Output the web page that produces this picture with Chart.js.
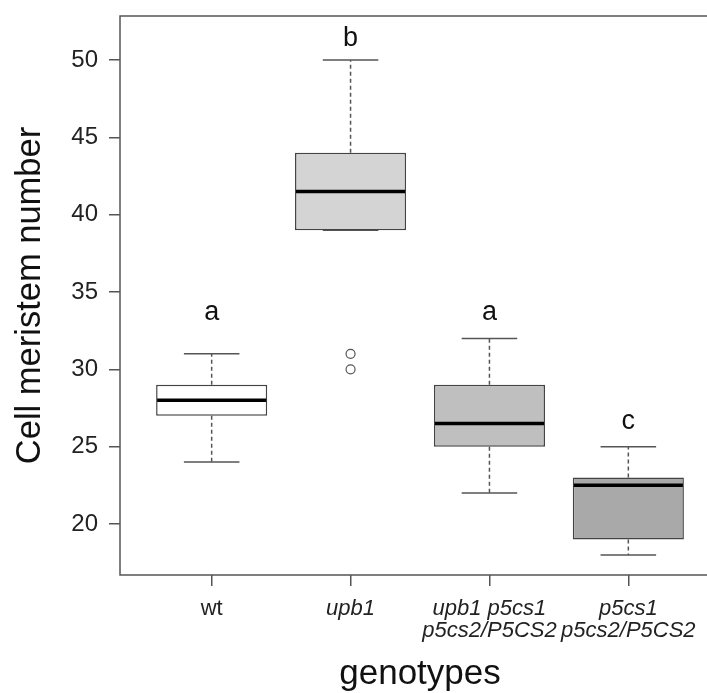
<!DOCTYPE html>
<html>
<head>
<meta charset="utf-8">
<script src="https://cdn.jsdelivr.net/npm/chart.js@4.4.0/dist/chart.umd.min.js"></script>
<style>
    html, body { margin: 0; padding: 0; background: #fff; overflow: hidden; }
</style>
</head>
<body>
<canvas id="boxChart" width="730" height="693"></canvas>
<script>
// Data
const genotypes = [['wt'], ['upb1'], ['upb1 p5cs1', 'p5cs2/P5CS2'], ['p5cs1', 'p5cs2/P5CS2']];
const positions = [1, 2, 3, 4];
const whiskerLow = [24, 39, 22, 18];
const q1 = [27, 39, 25, 19];
const medians = [28, 41.5, 26.5, 22.5];
const q3 = [29, 44, 29, 23];
const whiskerHigh = [31, 50, 32, 25];
const outlierGroup = [2, 2];
const outlierValues = [31, 30];
const groupLetters = ['a', 'b', 'a', 'c'];
const letterLevels = [33.7, 51.4, 33.7, 26.6];
const yTicks = [20, 25, 30, 35, 40, 45, 50];
const boxColors = ['#ffffff', '#d4d4d4', '#bfbfbf', '#a9a9a9'];

const FONT = "'Liberation Sans', Arial, Helvetica, sans-serif";

// whiskers, caps, medians, letters and the frame
const boxplotParts = {
    id: 'boxplotParts',
    beforeDatasetsDraw(chart) {
        const ctx = chart.ctx;
        const y = chart.scales.y;
        const bars = chart.getDatasetMeta(0).data;
        ctx.save();
        ctx.strokeStyle = '#555';
        ctx.lineWidth = 1.5;
        bars.forEach((bar, i) => {
            const half = bar.width / 2;
            // dashed whiskers
            ctx.setLineDash([4, 3]);
            ctx.beginPath();
            ctx.moveTo(bar.x, y.getPixelForValue(q3[i]));
            ctx.lineTo(bar.x, y.getPixelForValue(whiskerHigh[i]));
            ctx.moveTo(bar.x, y.getPixelForValue(q1[i]));
            ctx.lineTo(bar.x, y.getPixelForValue(whiskerLow[i]));
            ctx.stroke();
            // caps
            ctx.setLineDash([]);
            ctx.beginPath();
            [whiskerHigh[i], whiskerLow[i]].forEach(v => {
                const py = y.getPixelForValue(v);
                ctx.moveTo(bar.x - half / 2, py);
                ctx.lineTo(bar.x + half / 2, py);
            });
            ctx.stroke();
        });
        ctx.restore();
    },
    afterDatasetsDraw(chart) {
        const ctx = chart.ctx;
        const y = chart.scales.y;
        const bars = chart.getDatasetMeta(0).data;
        ctx.save();
        ctx.strokeStyle = '#000';
        ctx.lineWidth = 3.5;
        bars.forEach((bar, i) => {
            const half = bar.width / 2;
            const py = y.getPixelForValue(medians[i]);
            ctx.beginPath();
            ctx.moveTo(bar.x - half + 1, py);
            ctx.lineTo(bar.x + half - 1, py);
            ctx.stroke();
        });
        // significance letters
        ctx.fillStyle = '#111';
        ctx.font = '27px ' + FONT;
        ctx.textAlign = 'center';
        ctx.textBaseline = 'middle';
        bars.forEach((bar, i) => {
            ctx.fillText(groupLetters[i], bar.x, y.getPixelForValue(letterLevels[i]));
        });
        ctx.restore();
    },
    afterDraw(chart) {
        const a = chart.chartArea;
        const ctx = chart.ctx;
        ctx.save();
        ctx.strokeStyle = '#555';
        ctx.lineWidth = 1.5;
        ctx.strokeRect(a.left, a.top, a.right - a.left, a.bottom - a.top);
        ctx.restore();
    }
};

const boxCtx = document.getElementById('boxChart').getContext('2d');
const boxChart = new Chart(boxCtx, {
    type: 'bar',
    data: {
        datasets: [{
            label: 'IQR',
            data: positions.map((p, i) => ({ x: p, y: [q1[i], q3[i]] })),
            backgroundColor: boxColors,
            borderColor: '#444',
            borderWidth: 1.5,
            borderSkipped: false,
            barPercentage: 0.8,
            categoryPercentage: 1.0
        }, {
            type: 'scatter',
            label: 'Outliers',
            data: outlierGroup.map((g, i) => ({ x: g, y: outlierValues[i] })),
            pointStyle: 'circle',
            pointRadius: 4.5,
            pointBackgroundColor: '#fff',
            pointBorderColor: '#555',
            pointBorderWidth: 1.2
        }]
    },
    options: {
        responsive: false,
        animation: false,
        layout: {
            padding: { top: 16, right: 10, left: 0, bottom: 0 }
        },
        plugins: {
            legend: { display: false },
            tooltip: { enabled: false }
        },
        scales: {
            x: {
                type: 'linear',
                offset: false,
                min: 0.34,
                max: 4.66,
                afterBuildTicks: scale => { scale.ticks = positions.map(v => ({ value: v })); },
                afterFit: scale => {
                    scale.height = 118;
                    scale.paddingLeft = 0;
                    scale.paddingRight = 0;
                },
                border: { display: false },
                grid: {
                    offset: false,
                    drawOnChartArea: false,
                    drawTicks: true,
                    tickLength: 11,
                    color: '#555',
                    lineWidth: 1.5
                },
                ticks: {
                    padding: 12,
                    color: '#222',
                    maxRotation: 0,
                    autoSkip: false,
                    font: ctx => ({
                        family: FONT,
                        size: 22,
                        lineHeight: 1.0,
                        style: ctx.index === 0 ? 'normal' : 'italic'
                    }),
                    callback: value => genotypes[positions.indexOf(value)]
                },
                title: {
                    display: true,
                    text: 'genotypes',
                    color: '#111',
                    font: { family: FONT, size: 35, lineHeight: 1.0 },
                    padding: { top: 0, bottom: 1 }
                }
            },
            y: {
                min: 16.7,
                max: 52.85,
                afterBuildTicks: scale => { scale.ticks = yTicks.map(v => ({ value: v })); },
                afterFit: scale => {
                    scale.width = 120;
                    scale.paddingTop = 0;
                    scale.paddingBottom = 0;
                },
                border: { display: false },
                grid: {
                    drawOnChartArea: false,
                    drawTicks: true,
                    tickLength: 11,
                    color: '#555',
                    lineWidth: 1.5
                },
                ticks: {
                    padding: 11,
                    color: '#222',
                    font: { family: FONT, size: 24 }
                },
                title: {
                    display: true,
                    text: 'Cell meristem number',
                    color: '#111',
                    font: { family: FONT, size: 34.5, lineHeight: 1.2 },
                    padding: { top: 10, bottom: 0 }
                }
            }
        }
    },
    plugins: [boxplotParts]
});
</script>
</body>
</html>
